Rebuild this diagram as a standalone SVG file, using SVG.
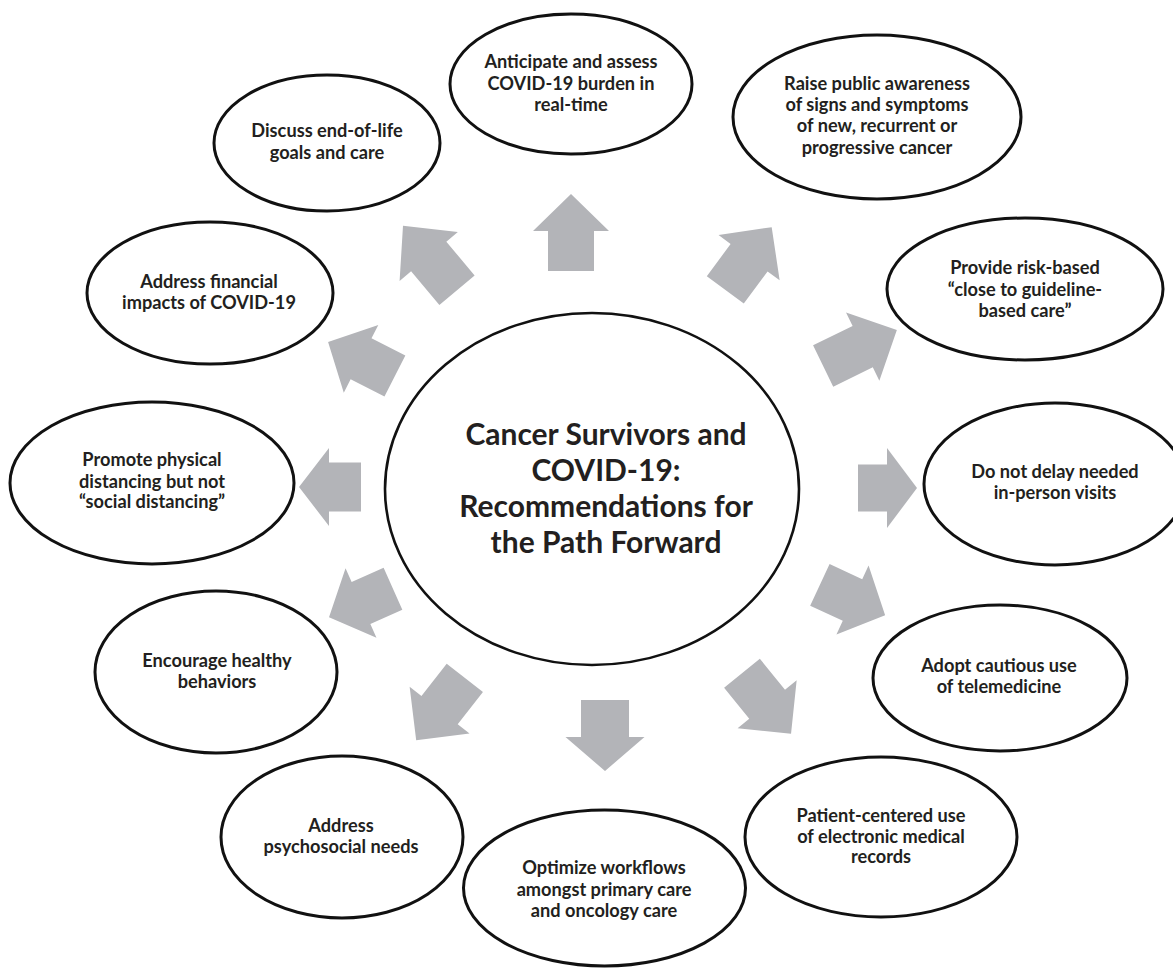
<svg xmlns="http://www.w3.org/2000/svg" width="1173" height="969" viewBox="0 0 1173 969">
<style>
.bg{fill:#ffffff}
.node ellipse{fill:#ffffff;stroke:#111111;stroke-width:3}
.node text{font-family:Lato,"Liberation Sans",sans-serif;font-weight:bold;font-size:18.2px;fill:#231f20;text-anchor:middle}
#center ellipse{stroke-width:2.6}
#center text{font-size:30px}
.arrows polygon{fill:#b3b4b8}
</style>
<rect class="bg" x="0" y="0" width="1173" height="969"/>
<g class="arrows" id="connectors">
<g transform="translate(571,232.5)"><polygon points="0,-38.5 38,-1.5 23,-1.5 23,38.5 -23,38.5 -23,-1.5 -38,-1.5"/></g>
<g transform="translate(430,258) rotate(-40)"><polygon points="0,-42 38,-2 23,-2 23,42 -23,42 -23,-2 -38,-2"/></g>
<g transform="translate(748.5,258.5) rotate(36.5)"><polygon points="0,-39 38,-1 23,-1 23,39 -23,39 -23,-1 -38,-1"/></g>
<g transform="translate(860,348) rotate(64)"><polygon points="0,-41 38,-3 23,-3 23,41 -23,41 -23,-3 -38,-3"/></g>
<g transform="translate(887.5,488) rotate(90)"><polygon points="0,-29.5 40,0.5 23.5,0.5 23.5,29.5 -23.5,29.5 -23.5,0.5 -40,0.5"/></g>
<g transform="translate(852.5,600) rotate(115)"><polygon points="0,-36 38,0 23,0 23,36 -23,36 -23,0 -38,0"/></g>
<g transform="translate(766.5,703.5) rotate(141)"><polygon points="0,-39 38,-1 23,-1 23,39 -23,39 -23,-1 -38,-1"/></g>
<g transform="translate(605,735.5) rotate(180)"><polygon points="0,-35.5 39.5,-1.5 24,-1.5 24,35.5 -24,35.5 -24,-1.5 -39.5,-1.5"/></g>
<g transform="translate(440.5,709) rotate(-142)"><polygon points="0,-39.5 38,-1.5 23,-1.5 23,39.5 -23,39.5 -23,-1.5 -38,-1.5"/></g>
<g transform="translate(361,603) rotate(-114)"><polygon points="0,-35 38,0 23,0 23,35 -23,35 -23,0 -38,0"/></g>
<g transform="translate(330,487) rotate(-90)"><polygon points="0,-31 39,-1 24.5,-1 24.5,31 -24.5,31 -24.5,-1 -39,-1"/></g>
<g transform="translate(361.5,359) rotate(-63)"><polygon points="0,-37.5 38,-0.5 23,-0.5 23,37.5 -23,37.5 -23,-0.5 -38,-0.5"/></g>
</g>
<g class="node" id="center">
<ellipse cx="592" cy="489" rx="207" ry="176"/>
<text x="606" y="445">Cancer Survivors and</text>
<text x="606" y="481">COVID-19:</text>
<text x="606" y="517">Recommendations for</text>
<text x="606" y="553">the Path Forward</text>
</g>
<g class="node" id="n-anticipate">
<ellipse cx="571" cy="84" rx="121" ry="70"/>
<text x="571" y="68">Anticipate and assess</text>
<text x="571" y="90">COVID-19 burden in</text>
<text x="571" y="111">real-time</text>
</g>
<g class="node" id="n-raise">
<ellipse cx="877" cy="117" rx="144" ry="82"/>
<text x="877" y="90">Raise public awareness</text>
<text x="877" y="111">of signs and symptoms</text>
<text x="877" y="132">of new, recurrent or</text>
<text x="877" y="154">progressive cancer</text>
</g>
<g class="node" id="n-provide">
<ellipse cx="1025" cy="289" rx="138" ry="71"/>
<text x="1025" y="274">Provide risk-based</text>
<text x="1025" y="296">“close to guideline-</text>
<text x="1025" y="317">based care”</text>
</g>
<g class="node" id="n-delay">
<ellipse cx="1055" cy="484" rx="131" ry="81"/>
<text x="1055" y="478">Do not delay needed</text>
<text x="1055" y="499">in-person visits</text>
</g>
<g class="node" id="n-adopt">
<ellipse cx="1000" cy="678" rx="127" ry="73"/>
<text x="999" y="672">Adopt cautious use</text>
<text x="999" y="693">of telemedicine</text>
</g>
<g class="node" id="n-patient">
<ellipse cx="881" cy="837" rx="136" ry="80"/>
<text x="881" y="822">Patient-centered use</text>
<text x="881" y="843">of electronic medical</text>
<text x="881" y="863">records</text>
</g>
<g class="node" id="n-optimize">
<ellipse cx="604.5" cy="888" rx="141" ry="78"/>
<text x="604" y="874">Optimize workflows</text>
<text x="604" y="896">amongst primary care</text>
<text x="604" y="917">and oncology care</text>
</g>
<g class="node" id="n-psychosocial">
<ellipse cx="342" cy="837" rx="121" ry="81"/>
<text x="341" y="832">Address</text>
<text x="341" y="853">psychosocial needs</text>
</g>
<g class="node" id="n-encourage">
<ellipse cx="216" cy="672" rx="121" ry="81"/>
<text x="217" y="667">Encourage healthy</text>
<text x="217" y="688">behaviors</text>
</g>
<g class="node" id="n-promote">
<ellipse cx="152" cy="483" rx="142" ry="81"/>
<text x="152" y="466">Promote physical</text>
<text x="152" y="488">distancing but not</text>
<text x="152" y="508">“social distancing”</text>
</g>
<g class="node" id="n-financial">
<ellipse cx="210" cy="293" rx="123" ry="71"/>
<text x="209" y="288">Address financial</text>
<text x="209" y="309">impacts of COVID-19</text>
</g>
<g class="node" id="n-discuss">
<ellipse cx="327" cy="143" rx="113" ry="68"/>
<text x="327" y="137">Discuss end-of-life</text>
<text x="327" y="159">goals and care</text>
</g>
</svg>
